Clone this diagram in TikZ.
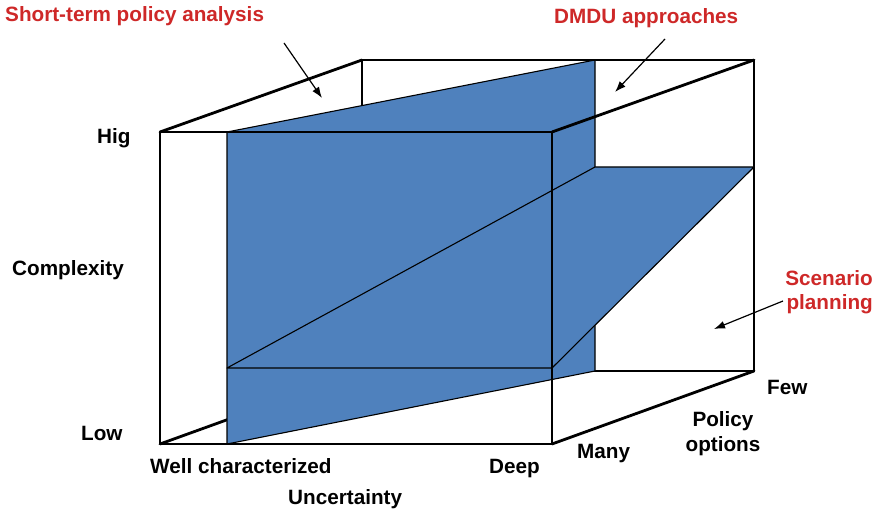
\documentclass[tikz,border=0pt]{standalone}
\usepackage{fontspec}
\setmainfont{Liberation Sans}
\usetikzlibrary{arrows.meta}
\definecolor{planeblue}{RGB}{79,129,189}
\definecolor{labelred}{RGB}{206,40,40}
\tikzset{
  thickedge/.style={line width=2.8pt, line join=round, line cap=round},
  planefill/.style={fill=planeblue, draw=black, line width=1.1pt, line join=round},
  lbl/.style={inner sep=0pt, font=\bfseries\fontsize{20.7}{24.5}\selectfont},
  redlbl/.style={lbl, text=labelred},
  pointer/.style={line width=1.2pt, -{Latex[length=11pt,width=8pt]}}
}
\begin{document}
\begin{tikzpicture}[x=1pt,y=-1pt]
\useasboundingbox (0,0) rectangle (878,510);
% cube corners
\coordinate (F1) at (160,132);
\coordinate (F2) at (552,132);
\coordinate (F3) at (552,444);
\coordinate (F4) at (160,444);
\coordinate (B1) at (362,60);
\coordinate (B2) at (754,60);
\coordinate (B3) at (754,371);
\coordinate (B4) at (362,371);
% plane corners
\coordinate (P1a) at (227,132);
\coordinate (P1b) at (595,60);
\coordinate (P1c) at (595,371);
\coordinate (P1d) at (227,444);
\coordinate (P2a) at (227,368);
\coordinate (P2b) at (552,368);
\coordinate (P2c) at (754,167);
\coordinate (P2d) at (595,167);
% back edges
\draw[thickedge] (B1) -- (B2) -- (B3) -- (B4) -- cycle;
\draw[thickedge] (F1) -- (B1);
\draw[thickedge] (F4) -- (B4);
% planes
\draw[planefill] (P1a) -- (P1b) -- (P1c) -- (P1d) -- cycle;
\draw[planefill] (P2a) -- (P2b) -- (P2c) -- (P2d) -- cycle;
% front edges
\draw[thickedge] (F1) -- (F2) -- (F3) -- (F4) -- cycle;
\draw[thickedge] (F2) -- (B2);
\draw[thickedge] (F3) -- (B3);
% labels
\node[redlbl, anchor=base west] (stpa) at (5,22) {Short-term policy analysis};
\node[redlbl, anchor=base west] (dmdu) at (554,24) {DMDU approaches};
\node[redlbl, anchor=base east, align=right] (scen) at (873,310) {Scenario\\planning};
\node[lbl, anchor=base west] (hig) at (97,144) {Hig};
\node[lbl, anchor=base west] (cplx) at (12,276) {Complexity};
\node[lbl, anchor=base west] (low) at (81,440) {Low};
\node[lbl, anchor=base west] (wellc) at (150,473) {Well characterized};
\node[lbl, anchor=base west] (deep) at (489,473) {Deep};
\node[lbl, anchor=base west] (unc) at (288,504) {Uncertainty};
\node[lbl, anchor=base west] (many) at (577,458) {Many};
\node[lbl, anchor=base, align=center] (popt) at (723,451) {Policy\\options};
\node[lbl, anchor=base west] (few) at (767,395) {Few};
% arrows
\coordinate (a1s) at (284,43);
\coordinate (a1e) at (322,98);
\coordinate (a2s) at (665,39);
\coordinate (a2e) at (615,92);
\coordinate (a3s) at (783,301);
\coordinate (a3e) at (714,329);
\draw[pointer] (a1s) -- (a1e);
\draw[pointer] (a2s) -- (a2e);
\draw[pointer] (a3s) -- (a3e);
\end{tikzpicture}
\end{document}
